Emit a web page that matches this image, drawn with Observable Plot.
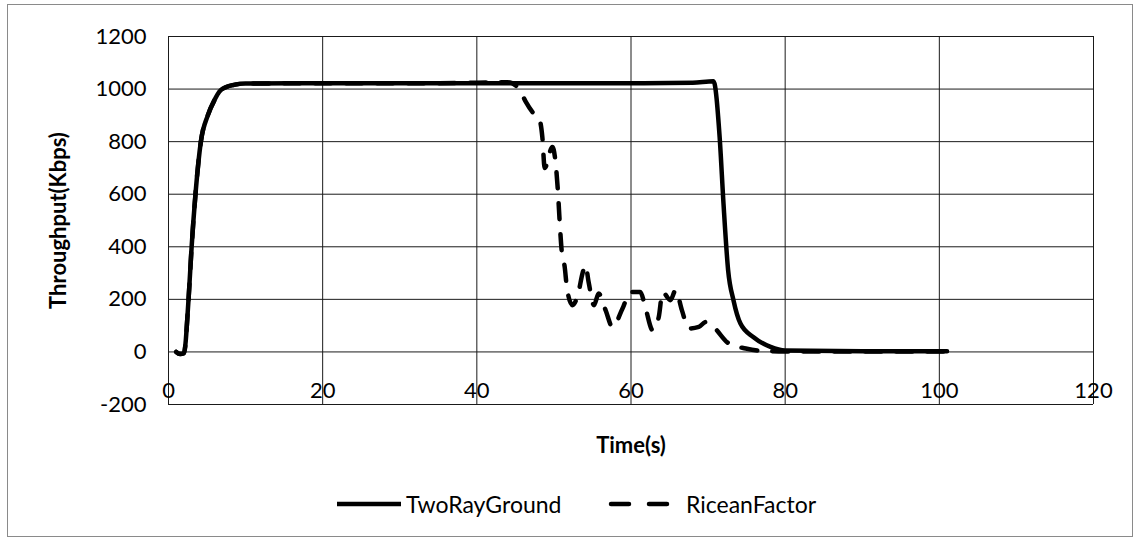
<!DOCTYPE html>
<html>
<head>
<meta charset="utf-8">
<script src="https://cdn.jsdelivr.net/npm/d3@7"></script>
<script src="https://cdn.jsdelivr.net/npm/@observablehq/plot@0.6"></script>
<style>
  html, body { margin: 0; padding: 0; background: #fff; }
  #wrap { position: relative; width: 1136px; height: 540px; font-family: Lato, "Open Sans", sans-serif; }
  #border { position: absolute; left: 7px; top: 4px; width: 1126px; height: 533px; border: 1px solid #8a8a8a; box-sizing: border-box; }
  #chart { position: absolute; left: 0; top: 0; }
  #legend { position: absolute; left: 0; top: 490px; width: 1136px; height: 28px; font-size: 23px; color: #000; }
  .item { position: absolute; top: 0; height: 28px; display: flex; align-items: center; }
  .item svg { display: block; }
</style>
</head>
<body>
<div id="wrap">
  <div id="border"></div>
  <div id="chart"></div>
  <div id="legend"></div>
</div>
<script>
// ---- Data ----
const seriesNames = ["TwoRayGround", "RiceanFactor"];

const twoRayTime = [1, 1.5, 2, 2.6, 3.0, 3.5, 4.2, 5.1, 6.0, 6.6, 7.5, 8.5, 10, 20, 30, 40, 50, 60, 68, 70.7, 71.5, 72.0, 72.6, 73.3, 74.2, 75.9, 78.1, 80, 90, 101];
const twoRayThroughput = [0, -8, -5, 200, 400, 600, 800, 900, 960, 990, 1008, 1016, 1021, 1022, 1022, 1022, 1022, 1022, 1024, 1030, 817, 564, 311, 196, 108, 56, 19, 5, 3, 3];

const riceanTime = [1, 1.5, 2, 2.6, 3.0, 3.5, 4.2, 5.1, 6.0, 6.6, 7.5, 8.5, 10, 20, 30, 40, 44, 45.5, 46.3, 47.4, 48.1, 48.5, 48.8, 49.8, 50.5, 50.8, 51.0, 51.4, 51.7, 52.4, 53.2, 53.7, 54.1, 54.5, 55.2, 55.8, 56.7, 57.6, 58.9, 59.9, 61.2, 61.9, 62.8, 63.6, 64.1, 65.1, 65.8, 66.6, 67.5, 68.8, 69.7, 70.7, 72.7, 74.9, 77, 80, 90, 101];
const riceanThroughput = [0, -8, -5, 200, 400, 600, 800, 900, 960, 990, 1008, 1016, 1021, 1022, 1022, 1024, 1026, 1000, 954, 906, 887, 817, 700, 780, 620, 469, 387, 323, 241, 178, 228, 298, 330, 266, 178, 222, 159, 95, 165, 228, 228, 165, 83, 133, 228, 197, 235, 159, 89, 95, 114, 95, 32, 13, 4, 2, 2, 2];

const xTicks = [0, 20, 40, 60, 80, 100, 120];
const yTicks = [-200, 0, 200, 400, 600, 800, 1000, 1200];
const xLabel = "Time(s)";
const yLabel = "Throughput(Kbps)";

const twoRay = twoRayTime.map((t, i) => ({time: t, value: twoRayThroughput[i]}));
const ricean = riceanTime.map((t, i) => ({time: t, value: riceanThroughput[i]}));

const fontFamily = "Lato, 'Open Sans', sans-serif";

const chart = Plot.plot({
  width: 1136,
  height: 460,
  marginLeft: 168,
  marginRight: 43,
  marginTop: 36,
  marginBottom: 56,
  style: {fontFamily, fontSize: "22px", color: "#000", background: "transparent", overflow: "visible"},
  x: {domain: [0, 120], ticks: xTicks},
  y: {domain: [-200, 1200], ticks: yTicks},
  marks: [
    Plot.ruleY(yTicks, {stroke: "#1a1a1a", strokeWidth: 1}),
    Plot.ruleX(xTicks, {stroke: "#1a1a1a", strokeWidth: 1}),
    Plot.axisY(yTicks, {tickSize: 0, tickPadding: 22, label: null, fontSize: 22, tickFormat: d => String(d)}),
    Plot.axisX(xTicks, {anchor: "bottom", tickSize: 0, tickPadding: 0, dy: -22, label: null, fontSize: 22, tickFormat: d => String(d)}),
    Plot.line(ricean, {x: "time", y: "value", stroke: "#000", strokeWidth: 4.5, strokeDasharray: "16,15", strokeLinecap: "round", curve: "monotone-x"}),
    Plot.line(twoRay, {x: "time", y: "value", stroke: "#000", strokeWidth: 4.5, strokeLinejoin: "round", strokeLinecap: "round", curve: "monotone-x"}),
    Plot.text([xLabel], {frameAnchor: "bottom", dy: 41, lineAnchor: "middle", fontWeight: "bold", fontSize: 22}),
    Plot.text([yLabel], {frameAnchor: "left", dx: -110, rotate: -90, textAnchor: "middle", lineAnchor: "middle", fontWeight: "bold", fontSize: 22})
  ]
});
document.getElementById("chart").appendChild(chart);

// ---- Legend ----
const legend = document.getElementById("legend");
const items = [
  {name: seriesNames[0], left: 334, dash: null},
  {name: seriesNames[1], left: 608, dash: "18,20"}
];
for (const it of items) {
  const div = document.createElement("div");
  div.className = "item";
  div.style.left = it.left + "px";
  const s = d3.create("svg").attr("width", 70).attr("height", 28);
  s.append("line").attr("x1", 3).attr("x2", 67).attr("y1", 14).attr("y2", 14)
    .attr("stroke", "#000").attr("stroke-width", 4.5)
    .attr("stroke-dasharray", it.dash)
    .attr("stroke-linecap", it.dash ? "round" : "butt");
  div.appendChild(s.node());
  const span = document.createElement("span");
  span.textContent = it.name;
  span.style.marginLeft = it.dash ? "8px" : "2px";
  div.appendChild(span);
  legend.appendChild(div);
}
</script>
</body>
</html>
